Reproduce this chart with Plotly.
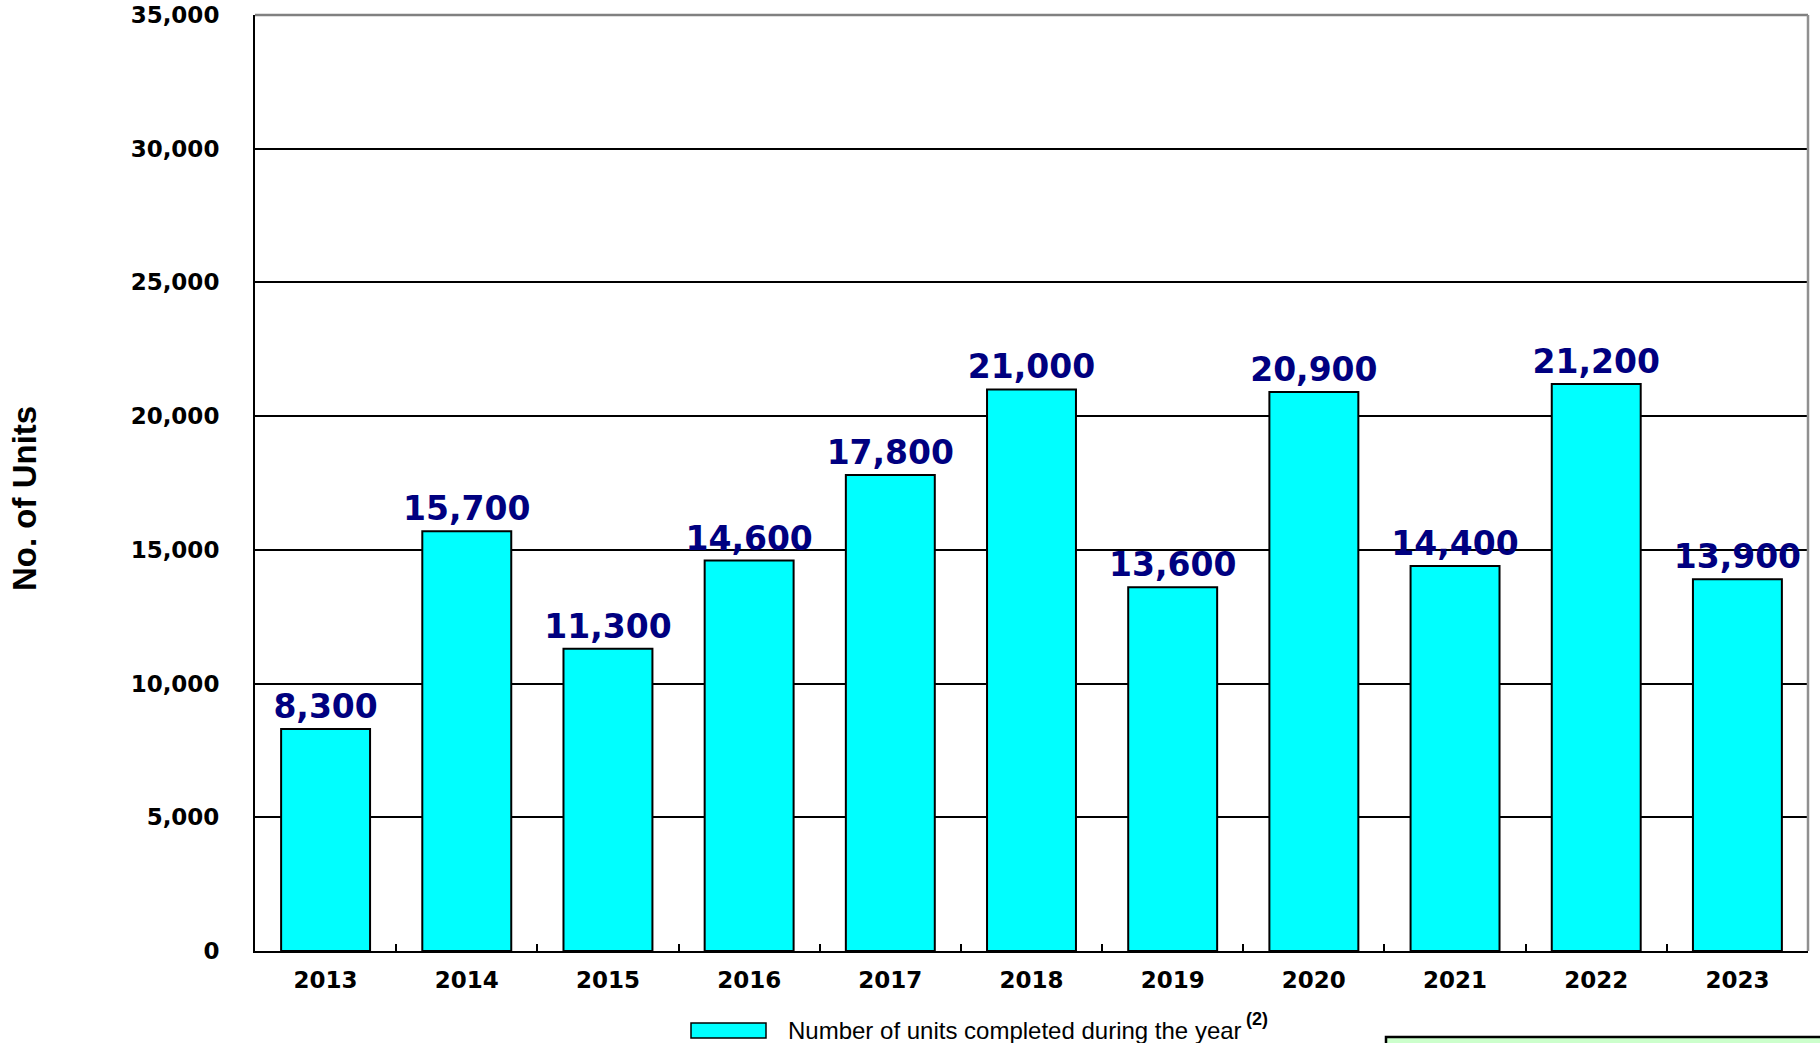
import plotly.graph_objects as go

years = ["2013", "2014", "2015", "2016", "2017", "2018", "2019", "2020", "2021", "2022", "2023"]
units_completed = [8300, 15700, 11300, 14600, 17800, 21000, 13600, 20900, 14400, 21200, 13900]
y_ticks = [0, 5000, 10000, 15000, 20000, 25000, 30000, 35000]
legend_label = "Number of units completed during the year"
legend_note = "(2)"
y_title = "No. of Units"

W, H = 1820, 1043
L, R, T, B = 255, 12, 15, 92
pw, ph = W - L - R, H - T - B


def px_x(x):
    return (x - L) / pw


def px_y(y):
    return (H - B - y) / ph


fig = go.Figure()
fig.add_trace(go.Bar(
    x=years,
    y=units_completed,
    marker=dict(color="#00FFFF", line=dict(color="black", width=2)),
    text=[f"{v:,}" for v in units_completed],
    textposition="outside",
    constraintext="none",
    textfont=dict(family="DejaVu Sans", size=33, color="#000080", weight="bold"),
    cliponaxis=False,
    showlegend=False,
))

fig.update_layout(
    width=W, height=H,
    margin=dict(l=L, r=R, t=T, b=B, autoexpand=False),
    plot_bgcolor="white", paper_bgcolor="white",
    bargap=0.37,
    xaxis=dict(
        type="category",
        showline=True, linecolor="black", linewidth=2,
        ticks="inside", tickson="boundaries", ticklen=7, tickcolor="black", tickwidth=2,
        tickfont=dict(family="DejaVu Sans", size=23, color="black", weight="bold"),
        ticklabelstandoff=7,
        showgrid=False,
    ),
    yaxis=dict(
        range=[0, 35000],
        tickvals=y_ticks,
        tickformat=",",
        showline=True, linecolor="black", linewidth=2,
        ticks="inside", ticklen=10, tickcolor="black", tickwidth=2,
        tickfont=dict(family="DejaVu Sans", size=23, color="black", weight="bold"),
        ticklabelstandoff=29,
        showgrid=True, gridcolor="black", gridwidth=1.5,
        zeroline=False,
    ),
    shapes=[
        dict(type="line", xref="paper", yref="paper", x0=0, x1=1, y0=1, y1=1,
             line=dict(color="#808080", width=2.5)),
        dict(type="line", xref="paper", yref="paper", x0=1, x1=1, y0=0, y1=1,
             line=dict(color="#909090", width=2.5)),
        dict(type="rect", xref="paper", yref="paper",
             x0=px_x(691), x1=px_x(766), y0=px_y(1038), y1=px_y(1023),
             fillcolor="#00FFFF", line=dict(color="black", width=1.5)),
        dict(type="rect", xref="paper", yref="paper",
             x0=px_x(1386), x1=px_x(1900), y0=px_y(1100), y1=px_y(1037),
             fillcolor="#CCFFCC", line=dict(color="black", width=2.5)),
    ],
    annotations=[
        dict(text=y_title, xref="paper", yref="paper", x=px_x(25), y=px_y(498),
             textangle=-90, showarrow=False, xanchor="center", yanchor="middle",
             font=dict(family="Liberation Sans", size=33, color="black", weight="bold")),
        dict(text=legend_label, xref="paper", yref="paper",
             x=px_x(786), y=px_y(1030), showarrow=False, xanchor="left", yanchor="middle",
             font=dict(family="Liberation Sans", size=24, color="black")),
        dict(text=legend_note, xref="paper", yref="paper",
             x=px_x(1244), y=px_y(1019), showarrow=False, xanchor="left", yanchor="middle",
             font=dict(family="Liberation Sans", size=18, color="black", weight="bold")),
    ],
)

fig.write_html("out.html", config={"displayModeBar": False})

# remove default page margin so the figure sits at the window's top-left corner
with open("out.html", "r", encoding="utf-8") as f:
    html = f.read()
html = html.replace("<head>", "<head><style>html,body{margin:0;padding:0;overflow:hidden;}</style>", 1)
with open("out.html", "w", encoding="utf-8") as f:
    f.write(html)
